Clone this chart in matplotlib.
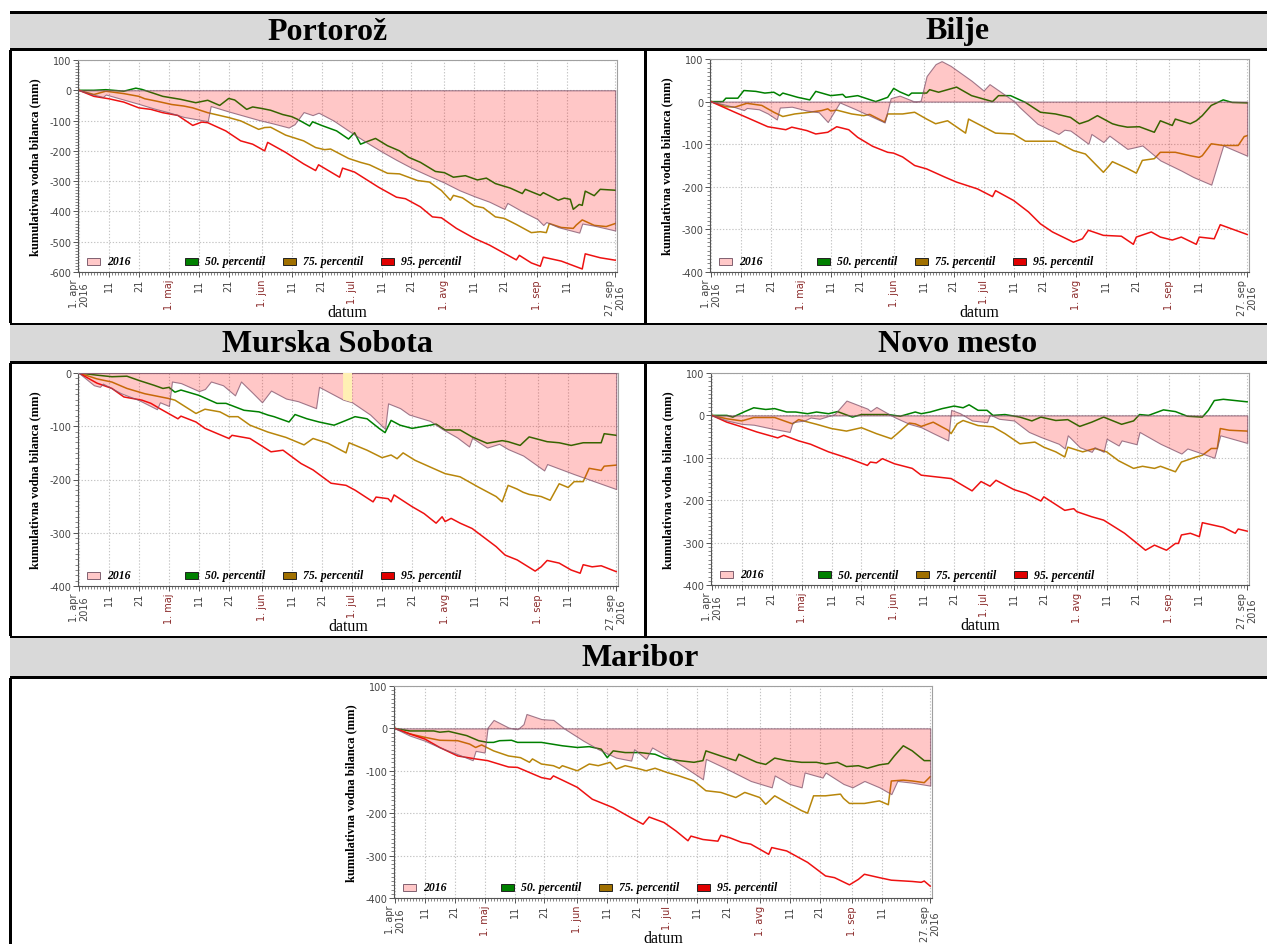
import matplotlib
matplotlib.use('Agg')
import matplotlib.pyplot as plt
from matplotlib.patches import Rectangle
from matplotlib.ticker import MultipleLocator

# ---------------- data (day index from 1 Apr 2016, value in mm) ----------------
XT_POS = [0, 10, 20, 30, 40, 50, 61, 71, 81, 91, 101, 111, 122, 132, 142, 153, 163, 179]
XT_LAB = ['1. apr\n2016', '11', '21', '1. maj', '11', '21', '1. jun', '11', '21',
          '1. jul', '11', '21', '1. avg', '11', '21', '1. sep', '11', '27. sep\n2016']
MONTH_LABELS = ['1. maj', '1. jun', '1. jul', '1. avg', '1. sep']
LEGEND_LABELS = ['2016', '50. percentil', '75. percentil', '95. percentil']

PORT_2016 = [(0,0),(4,-12),(8,-22),(9,-14),(14,-28),(20,-45),(25,-60),(30,-73),(35,-88),(43,-102),(44,-52),
             (50,-70),(55,-84),(60,-98),(65,-110),(70,-123),(72,-112),(75,-72),(78,-82),(80,-74),(85,-100),
             (91,-140),(96,-172),(101,-202),(106,-230),(111,-256),(117,-283),(122,-305),(127,-330),(132,-350),
             (137,-368),(142,-392),(143,-372),(148,-400),(153,-425),(155,-445),(156,-435),(160,-452),(167,-470),
             (168,-440),(172,-447),(179,-463)]
PORT_P50 = [(0,0),(5,0),(9,2),(15,-3),(19,7),(21,3),(28,-20),(34,-30),(39,-41),(43,-33),(47,-50),(50,-27),
            (52,-32),(56,-63),(58,-55),(61,-60),(64,-66),(68,-80),(71,-87),(73,-96),(77,-118),(78,-104),
            (81,-116),(86,-134),(90,-161),(92,-140),(94,-178),(96,-170),(99,-159),(103,-183),(107,-200),
            (110,-221),(114,-238),(119,-268),(122,-272),(125,-287),(129,-282),(133,-296),(136,-290),(139,-308),
            (144,-323),(148,-341),(149,-327),(154,-347),(155,-338),(160,-363),(162,-356),(164,-360),(165,-393),
            (167,-377),(168,-380),(169,-333),(172,-348),(174,-327),(179,-330)]
PORT_P75 = [(0,0),(5,-14),(9,-3),(15,-11),(20,-20),(22,-28),(26,-36),(31,-47),(35,-52),(38,-58),(43,-74),
            (50,-90),(54,-101),(60,-129),(62,-123),(64,-122),(69,-148),(75,-167),(79,-189),(82,-196),(84,-194),
            (90,-225),(94,-238),(97,-246),(103,-274),(107,-276),(113,-298),(117,-303),(121,-331),(124,-363),
            (125,-347),(128,-355),(132,-382),(135,-388),(139,-418),(142,-423),(146,-443),(151,-470),(154,-467),
            (156,-470),(157,-440),(161,-453),(165,-456),(166,-445),(168,-428),(172,-446),(176,-450),(179,-440)]
PORT_P95 = [(0,0),(5,-20),(10,-28),(15,-39),(20,-58),(24,-63),(28,-74),(33,-83),(38,-116),(41,-105),(43,-107),
            (49,-134),(54,-167),(58,-178),(62,-200),(63,-172),(69,-205),(75,-243),(79,-265),(80,-246),(87,-287),
            (88,-257),(92,-270),(100,-320),(106,-353),(109,-358),(114,-385),(118,-418),(121,-421),(126,-456),
            (132,-489),(137,-511),(146,-560),(147,-545),(151,-570),(154,-581),(155,-551),(161,-564),(168,-590),
            (169,-540),(174,-553),(179,-561)]

BILJE_2016 = [(0,0),(4,-6),(8,-13),(11,-20),(12,-15),(16,-18),(19,-28),(22,-42),(23,-14),(27,-12),(32,-21),
              (36,-25),(39,-48),(43,-2),(48,-17),(53,-33),(58,-49),(60,8),(63,14),(68,0),(70,2),(72,60),(75,88),
              (77,95),(80,84),(87,49),(91,26),(93,41),(101,2),(103,-13),(109,-52),(116,-76),(118,-66),(120,-68),
              (126,-99),(127,-76),(131,-95),(133,-80),(139,-111),(141,-108),(144,-103),(150,-138),(157,-162),
              (161,-177),(167,-195),(171,-103),(179,-127)]
BILJE_P50 = [(0,0),(4,0),(5,8),(9,8),(11,26),(15,24),(18,20),(21,22),(23,14),(24,20),(29,10),(33,4),(35,24),
             (40,14),(44,17),(45,10),(49,14),(55,0),(59,10),(61,31),(63,23),(66,14),(67,20),(72,20),(73,28),
             (76,22),(80,30),(82,34),(87,14),(92,4),(94,0),(96,14),(100,14),(105,-2),(110,-25),(115,-29),
             (120,-37),(123,-52),(126,-45),(129,-33),(134,-52),(136,-56),(139,-60),(143,-59),(148,-72),(150,-45),
             (154,-56),(155,-41),(160,-52),(162,-45),(164,-33),(167,-9),(171,4),(174,-2),(179,-3)]
BILJE_P75 = [(0,0),(5,-12),(8,-13),(12,-4),(17,-9),(21,-25),(24,-35),(28,-29),(33,-25),(37,-21),(39,-17),
             (40,-22),(42,-20),(47,-29),(51,-33),(53,-30),(58,-48),(59,-29),(64,-29),(68,-25),(72,-41),(75,-52),
             (79,-45),(85,-74),(86,-41),(89,-52),(95,-74),(101,-76),(105,-93),(110,-93),(115,-93),(121,-115),
             (125,-123),(131,-166),(133,-150),(134,-141),(139,-157),(142,-168),(144,-138),(148,-134),(150,-119),
             (155,-119),(160,-127),(163,-131),(164,-127),(167,-99),(171,-103),(176,-103),(178,-82),(179,-80)]
BILJE_P95 = [(0,0),(8,-25),(19,-59),(25,-66),(27,-60),(32,-68),(35,-76),(39,-72),(42,-59),(46,-66),(49,-84),
             (54,-105),(59,-119),(61,-121),(64,-130),(68,-150),(72,-158),(78,-177),(82,-189),(89,-205),(94,-223),
             (95,-209),(101,-232),(106,-259),(110,-287),(114,-306),(121,-330),(124,-322),(126,-302),(131,-314),
             (137,-316),(141,-335),(142,-318),(147,-306),(150,-318),(154,-325),(157,-318),(162,-335),(163,-318),
             (168,-322),(170,-289),(179,-312)]

MS_2016 = [(0,0),(5,-23),(7,-26),(8,-20),(14,-38),(20,-51),(26,-68),(27,-55),(30,-62),(31,-16),(34,-19),
           (40,-34),(42,-30),(44,-16),(48,-23),(52,-42),(54,-16),(58,-38),(61,-55),(64,-33),(69,-48),(73,-53),
           (79,-66),(80,-26),(84,-38),(88,-50),(91,-55),(97,-78),(102,-105),(103,-57),(107,-66),(110,-78),
           (117,-90),(121,-105),(126,-121),(130,-138),(131,-122),(136,-140),(140,-133),(143,-143),(148,-155),
           (155,-183),(156,-171),(165,-190),(171,-202),(179,-218)]
MS_GAP = (88, 91)
MS_P50 = [(0,0),(6,-4),(11,-7),(16,-6),(20,-14),(25,-23),(28,-29),(30,-27),(32,-36),(34,-32),(40,-42),
          (46,-57),(49,-57),(55,-70),(60,-73),(63,-79),(65,-82),(70,-92),(72,-78),(76,-86),(80,-92),(85,-98),
          (89,-89),(92,-82),(96,-86),(100,-104),(102,-112),(104,-89),(107,-98),(111,-104),(115,-100),(119,-96),
          (122,-107),(127,-107),(131,-120),(136,-132),(141,-127),(143,-129),(147,-136),(150,-120),(156,-129),
          (160,-131),(164,-136),(168,-131),(174,-131),(175,-114),(179,-117)]
MS_P75 = [(0,0),(6,-11),(11,-17),(16,-29),(22,-39),(30,-48),(32,-51),(39,-76),(42,-68),(47,-73),(50,-82),
          (53,-82),(57,-98),(63,-111),(69,-121),(75,-135),(78,-123),(83,-132),(89,-150),(90,-131),(96,-145),
          (101,-159),(104,-154),(106,-161),(108,-150),(112,-164),(118,-179),(122,-189),(127,-195),(133,-214),
          (139,-232),(141,-242),(143,-211),(146,-218),(148,-224),(150,-228),(154,-232),(157,-239),(160,-208),
          (163,-215),(165,-204),(168,-204),(170,-179),(174,-183),(175,-175),(179,-173)]
MS_P95 = [(0,0),(6,-19),(11,-29),(15,-45),(21,-51),(24,-57),(27,-67),(33,-86),(34,-81),(39,-92),(42,-104),
          (50,-123),(51,-117),(57,-123),(64,-148),(68,-145),(74,-170),(78,-182),(84,-207),(89,-211),(92,-220),
          (98,-242),(99,-233),(103,-236),(104,-242),(105,-229),(111,-251),(115,-264),(119,-282),(121,-270),
          (122,-279),(124,-273),(127,-282),(131,-292),(139,-326),(142,-342),(146,-351),(152,-372),(154,-364),
          (156,-352),(160,-357),(164,-370),(167,-376),(168,-360),(171,-364),(174,-362),(179,-373)]

NM_2016 = [(0,0),(5,-12),(10,-20),(14,-22),(20,-31),(26,-39),(27,-16),(31,-12),(33,-5),(36,-8),(41,3),(45,35),
           (52,16),(53,10),(55,20),(61,-4),(66,-20),(70,-28),(74,-42),(79,-59),(80,13),(83,5),(87,-12),(92,-16),
           (93,2),(96,-8),(101,-12),(106,-39),(110,-51),(116,-67),(118,-78),(119,-47),(123,-75),(127,-86),
           (128,-75),(131,-86),(132,-55),(136,-71),(137,-59),(142,-68),(143,-39),(150,-67),(157,-90),(159,-78),
           (164,-90),(168,-100),(170,-47),(179,-65)]
NM_P50 = [(0,0),(5,0),(7,-4),(11,9),(14,18),(18,14),(21,16),(25,8),(28,8),(32,4),(35,8),(39,4),(42,9),
          (47,-4),(50,2),(54,2),(59,2),(63,-2),(68,8),(70,4),(73,8),(77,16),(81,22),(84,18),(86,25),(89,12),
          (92,12),(94,0),(98,2),(103,-4),(107,-13),(110,-4),(115,-12),(119,-10),(123,-26),(127,-16),(131,-4),
          (137,-21),(141,-13),(143,2),(146,0),(151,13),(155,9),(159,-2),(164,-4),(166,12),(168,35),(171,38),
          (179,32)]
NM_P75 = [(0,0),(5,-8),(10,-13),(14,-5),(21,-5),(27,-20),(29,-10),(35,-21),(40,-31),(45,-37),(50,-29),
          (55,-43),(60,-55),(62,-43),(66,-18),(68,-20),(70,-26),(74,-16),(79,-35),(80,-43),(82,-20),(84,-12),
          (89,-24),(94,-27),(98,-43),(103,-67),(108,-63),(111,-75),(115,-86),(118,-98),(119,-75),(124,-86),
          (128,-78),(132,-86),(136,-107),(141,-125),(144,-120),(148,-125),(150,-120),(155,-133),(157,-110),
          (162,-98),(164,-94),(167,-78),(169,-78),(170,-31),(173,-35),(179,-37)]
NM_P95 = [(0,0),(5,-16),(10,-27),(15,-39),(22,-53),(24,-47),(29,-60),(33,-68),(39,-86),(46,-102),(52,-118),
          (53,-110),(55,-112),(57,-102),(61,-114),(67,-125),(70,-141),(75,-145),(80,-149),(87,-178),(90,-156),
          (93,-167),(95,-153),(101,-175),(105,-184),(110,-202),(111,-192),(118,-224),(121,-220),(122,-227),
          (127,-239),(131,-247),(138,-278),(145,-318),(148,-306),(152,-318),(155,-302),(156,-302),(157,-282),
          (160,-278),(163,-286),(164,-253),(171,-264),(175,-278),(176,-268),(179,-273)]

MB_2016 = [(0,0),(5,-17),(10,-29),(15,-45),(21,-61),(26,-75),(27,-53),(30,-57),(31,2),(33,20),(38,2),(41,-2),
           (43,10),(44,34),(49,22),(53,20),(57,-2),(63,-29),(68,-49),(74,-69),(79,-76),(80,-49),(84,-72),
           (86,-45),(91,-65),(97,-92),(103,-120),(104,-72),(110,-92),(119,-124),(126,-139),(127,-111),(132,-131),
           (136,-139),(137,-104),(143,-116),(144,-104),(150,-131),(153,-139),(157,-124),(162,-139),(166,-155),
           (168,-124),(173,-128),(179,-135)]
MB_P50 = [(0,0),(5,-6),(10,-6),(13,-6),(15,-9),(18,-7),(24,-17),(28,-29),(31,-33),(33,-33),(35,-29),(39,-28),
          (41,-33),(45,-33),(49,-33),(56,-41),(61,-45),(65,-43),(69,-49),(71,-69),(73,-53),(77,-57),(82,-57),
          (87,-61),(90,-70),(95,-76),(100,-80),(103,-76),(104,-53),(109,-65),(114,-76),(115,-61),(121,-80),
          (124,-85),(127,-70),(131,-76),(136,-80),(141,-80),(144,-84),(148,-80),(151,-90),(155,-88),(158,-94),
          (162,-86),(165,-83),(167,-65),(170,-41),(173,-53),(177,-76),(179,-76)]
MB_P75 = [(0,0),(5,-13),(10,-21),(15,-28),(21,-29),(25,-37),(27,-45),(29,-39),(33,-53),(38,-65),(42,-69),
          (45,-80),(46,-72),(49,-84),(53,-88),(55,-94),(56,-88),(61,-100),(65,-84),(68,-88),(72,-80),(74,-96),
          (77,-88),(82,-96),(84,-100),(87,-94),(91,-104),(95,-112),(100,-124),(104,-147),(109,-151),(114,-163),
          (117,-151),(122,-163),(124,-179),(127,-159),(131,-175),(136,-194),(138,-200),(140,-159),(144,-159),
          (149,-155),(150,-165),(152,-177),(157,-177),(162,-171),(165,-180),(166,-124),(170,-122),(173,-124),
          (177,-128),(179,-114)]
MB_P95 = [(0,0),(5,-13),(10,-25),(15,-45),(21,-65),(27,-72),(31,-76),(38,-91),(41,-92),(45,-104),(49,-116),
          (52,-120),(53,-112),(56,-122),(61,-139),(66,-167),(73,-187),(79,-211),(83,-226),(85,-209),(90,-222),
          (94,-242),(98,-265),(99,-254),(103,-262),(108,-266),(109,-252),(112,-258),(116,-269),(119,-273),
          (125,-297),(126,-281),(131,-289),(138,-316),(144,-348),(147,-352),(152,-369),(155,-356),(157,-344),
          (162,-352),(166,-358),(173,-361),(176,-363),(177,-360),(179,-372)]

STATIONS = [
    # name, axes box in px (x0, y0, x1, y1), ylim, series
    ('Portorož', (78, 61, 617, 273), (-600, 100), PORT_2016, PORT_P50, PORT_P75, PORT_P95),
    ('Bilje', (710, 60, 1249, 273), (-400, 100), BILJE_2016, BILJE_P50, BILJE_P75, BILJE_P95),
    ('Murska Sobota', (78, 374, 618, 587), (-400, 0), MS_2016, MS_P50, MS_P75, MS_P95),
    ('Novo mesto', (711, 374, 1249, 586), (-400, 100), NM_2016, NM_P50, NM_P75, NM_P95),
    ('Maribor', (394, 687, 932, 899), (-400, 100), MB_2016, MB_P50, MB_P75, MB_P95),
]
TITLES = [('Portorož', 327, 32), ('Bilje', 958, 32), ('Murska Sobota', 327, 345),
          ('Novo mesto', 958, 345), ('Maribor', 640, 659)]

# ---------------- styles ----------------
W, H = 1267, 945
C_P50, C_P75, C_P95 = '#008000', '#b8860b', '#ee1111'
FILL = (1.0, 0.0, 0.0, 0.22)
FILL_EDGE = (0.50, 0.32, 0.42, 0.75)
SERIF = ['Liberation Serif', 'DejaVu Serif']
SANS = ['DejaVu Sans']

fig = plt.figure(figsize=(W / 100, H / 100), dpi=100)
fig.patch.set_facecolor('white')


def frect(x0, y0, x1, y1, color):
    fig.add_artist(Rectangle((x0 / W, 1 - y1 / H), (x1 - x0) / W, (y1 - y0) / H,
                             transform=fig.transFigure, facecolor=color, edgecolor='none', zorder=0))


# table frame
for (a, b) in [(14, 49), (326, 362), (639, 677)]:
    frect(10, a, W, b, '#d9d9d9')
for (a, b) in [(12, 14.5), (49, 51.5), (323.5, 326), (362, 364.5), (636.5, 639), (677, 679.5)]:
    frect(10, a, W, b, 'black')
for (a, b) in [(51, 324), (364, 637), (679, 945)]:
    frect(9, a, 11.5, b, 'black')
for (a, b) in [(51, 324), (364, 637)]:
    frect(644, a, 646.5, b, 'black')

for t, x, y in TITLES:
    fig.text(x / W, 1 - y / H, t, ha='center', va='center', fontsize=23,
             fontweight='bold', family=SERIF)


def xy(pts):
    return [p[0] for p in pts], [p[1] for p in pts]


for name, (x0, y0, x1, y1), ylim, s16, p50, p75, p95 in STATIONS:
    ax = fig.add_axes([x0 / W, 1 - y1 / H, (x1 - x0) / W, (y1 - y0) / H])
    ax.set_xlim(-0.3, 179.6)
    ax.set_ylim(*ylim)
    ax.set_axisbelow(True)
    ax.grid(True, which='major', color='#c4c4c4', linestyle=(0, (1.2, 1.6)), linewidth=0.8)

    for pts, c in [(p50, C_P50), (p75, C_P75), (p95, C_P95)]:
        xs, ys = xy(pts)
        ax.plot(xs, ys, color=c, lw=1.1, zorder=2, solid_joinstyle='round')
    xs, ys = xy(s16)
    ax.fill_between(xs, 0, ys, facecolor=FILL, edgecolor=FILL_EDGE, lw=0.8, zorder=3)
    if name == 'Murska Sobota':
        gx = [x for x in xs if MS_GAP[0] <= x <= MS_GAP[1]]
        gy = [y for x, y in zip(xs, ys) if MS_GAP[0] <= x <= MS_GAP[1]]
        ax.fill_between(gx, 0, gy, facecolor='#fff0b4', edgecolor='none', zorder=4)

    ax.set_xticks(XT_POS)
    ax.set_xticklabels(XT_LAB, rotation=90, fontsize=7, family=SANS, color='#444444',
                       linespacing=1.0)
    for lab in ax.get_xticklabels():
        if lab.get_text() in MONTH_LABELS:
            lab.set_color('#8b2b2b')
    ax.xaxis.set_minor_locator(MultipleLocator(1))
    ax.set_yticks(range(ylim[0], ylim[1] + 1, 100))
    ax.set_yticklabels([str(v) for v in range(ylim[0], ylim[1] + 1, 100)], fontsize=7,
                       family=SANS, color='#444444')
    ax.yaxis.set_minor_locator(MultipleLocator(10))
    ax.tick_params(which='major', length=3.5, width=0.7, color='#555555', pad=1.5)
    ax.tick_params(which='minor', length=2, width=0.5, color='#555555')
    for sp in ['left', 'bottom']:
        ax.spines[sp].set_color('#555555')
        ax.spines[sp].set_linewidth(0.8)
    for sp in ['top', 'right']:
        ax.spines[sp].set_color('#a0a0a0')
        ax.spines[sp].set_linewidth(0.8)

    # axis titles
    fig.text((x0 - 43) / W, 1 - ((y0 + y1) / 2) / H, 'kumulativna vodna bilanca (mm)',
             rotation=90, ha='center', va='center', fontsize=9, fontweight='bold', family=SERIF)
    fig.text(((x0 + x1) / 2) / W, 1 - (y1 + 40) / H, 'datum', ha='center', va='center',
             fontsize=11.5, family=SERIF)

    # legend inside the plot, bottom
    wpx, hpx = x1 - x0, y1 - y0
    ly = 10.5
    styles = [('#ffc8c8', '#806070'), (C_P50, '#222222'), ('#a07000', '#222222'), ('#e00000', '#222222')]
    for i, (lab, (fc, ec)) in enumerate(zip(LEGEND_LABELS, styles)):
        lx = 9 + 98 * i
        ax.add_patch(Rectangle((lx / wpx, (ly - 3.5) / hpx), 13 / wpx, 7 / hpx, transform=ax.transAxes,
                               facecolor=fc, edgecolor=ec, lw=0.7, zorder=6, clip_on=False))
        ax.text((lx + 20) / wpx, ly / hpx, lab, transform=ax.transAxes, ha='left', va='center',
                fontsize=8.5, fontweight='bold', fontstyle='italic', family=SERIF, zorder=6)

fig.savefig('out.png', dpi=100)
